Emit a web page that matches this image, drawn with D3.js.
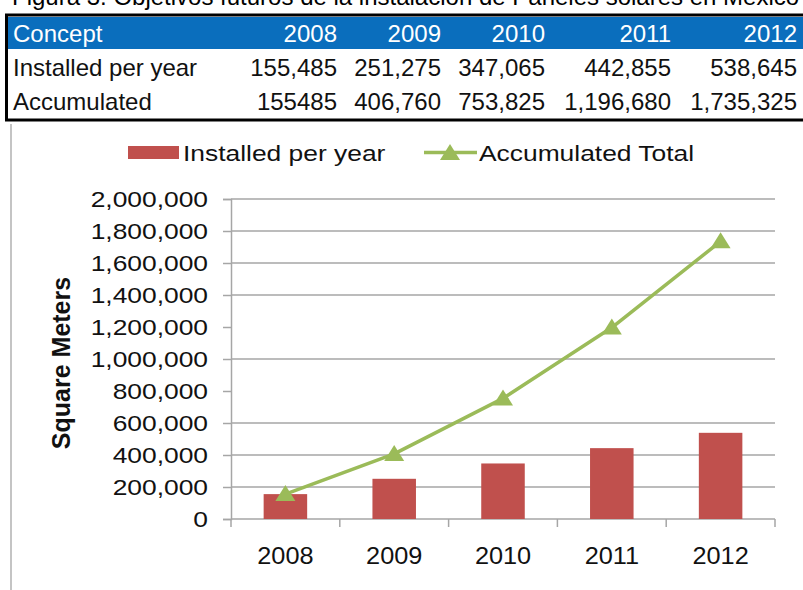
<!DOCTYPE html>
<html>
<head>
<meta charset="utf-8">
<script src="https://cdn.jsdelivr.net/npm/d3@7"></script>
<style>
  body { margin: 0; background: #fff; }
  svg { display: block; font-family: "Liberation Sans", Arial, sans-serif; }
</style>
</head>
<body>
<div id="chart"></div>
<script>
// chart values
let years = ['2008', '2009', '2010', '2011', '2012'];
let installed = [155485, 251275, 347065, 442855, 538645];
let accumulated = [155485, 406760, 753825, 1196680, 1735325];

// table text (as printed)
let tableHeader = ['Concept', '2008', '2009', '2010', '2011', '2012'];
let installedText = ['155,485', '251,275', '347,065', '442,855', '538,645'];
let accumulatedText = ['155485', '406,760', '753,825', '1,196,680', '1,735,325'];
let rowNames = ['Installed per year', 'Accumulated'];

// axis
let yTicks = [0, 200000, 400000, 600000, 800000, 1000000, 1200000, 1400000, 1600000, 1800000, 2000000];
let gridValues = [200000, 400000, 600000, 1000000, 1400000, 1600000, 1800000, 2000000];
let seriesNames = ['Installed per year', 'Accumulated Total'];
let title = 'Figura 3. Objetivos futuros de la instalación de Paneles solares en México';

let W = 803, H = 590;
let barColor = '#C0504D', lineColor = '#9BBB59', gridColor = '#a6a6a6';

let svg = d3.select('#chart').append('svg').attr('width', W).attr('height', H);

// title, mostly cut off at the top
svg.append('text').attr('x', 12).attr('y', 5)
    .style('font-size', '24px').attr('fill', '#000').text(title);

// ---- table ----
let colRight = [337, 441, 545, 671, 797];
svg.append('rect').attr('x', 6.5).attr('y', 15).attr('width', W).attr('height', 105)
    .attr('fill', '#fff').attr('stroke', '#000').attr('stroke-width', 3);
svg.append('rect').attr('x', 8).attr('y', 17).attr('width', W).attr('height', 32)
    .attr('fill', '#0A6EBD');

let rows = [tableHeader, [rowNames[0]].concat(installedText), [rowNames[1]].concat(accumulatedText)];
let rowBase = [42, 76, 110];
rows.forEach(function (row, ri) {
    svg.append('g').selectAll('text').data(row).enter().append('text')
        .attr('x', function (d, i) { return i === 0 ? 13 : colRight[i - 1]; })
        .attr('y', rowBase[ri])
        .attr('text-anchor', function (d, i) { return i === 0 ? 'start' : 'end'; })
        .attr('fill', ri === 0 ? '#fff' : '#111')
        .style('font-size', '24px')
        .text(function (d) { return d; });
});

// left frame line
svg.append('line').attr('x1', 11).attr('x2', 11).attr('y1', 124).attr('y2', H)
    .attr('stroke', '#b0b0b0').attr('stroke-width', 1.5);

// ---- chart ----
let plot = { left: 231, right: 775, top: 199, bottom: 519 };

let x = d3.scaleBand().domain(years)
    .range([plot.left, plot.right]).paddingInner(0.6).paddingOuter(0.3);
let step = x.step();
let y = d3.scaleLinear().domain([0, 2000000]).range([plot.bottom, plot.top]);

// gridlines
svg.append('g').selectAll('line').data(gridValues).enter().append('line')
    .attr('x1', plot.left).attr('x2', plot.right)
    .attr('y1', function (d) { return y(d); }).attr('y2', function (d) { return y(d); })
    .attr('stroke', gridColor).attr('stroke-width', 1.5);

// y axis
let axisY = d3.axisLeft(y).tickValues(yTicks).tickSize(8).tickPadding(0)
    .tickFormat(d3.format(','));
let gy = svg.append('g').attr('transform', 'translate(' + plot.left + ',0)').call(axisY);
gy.select('.domain').attr('stroke', gridColor).attr('stroke-width', 1.5);
gy.selectAll('.tick line').attr('stroke', gridColor).attr('stroke-width', 1.5);
gy.selectAll('.tick text')
    .attr('x', -23 / 1.2).attr('dy', '0.36em')
    .attr('transform', 'scale(1.2,1)')
    .attr('fill', '#111')
    .style('font-size', '22px').style('font-family', '"Liberation Sans", Arial, sans-serif');

// x axis line and boundary ticks
svg.append('line').attr('x1', plot.left).attr('x2', plot.right)
    .attr('y1', plot.bottom).attr('y2', plot.bottom)
    .attr('stroke', gridColor).attr('stroke-width', 1.5);
let bounds = years.map(function (d) { return x(d) - step * 0.3; }).concat([plot.right]);
svg.append('g').selectAll('line').data(bounds).enter().append('line')
    .attr('x1', function (d) { return d; }).attr('x2', function (d) { return d; })
    .attr('y1', plot.bottom).attr('y2', plot.bottom + 8)
    .attr('stroke', gridColor).attr('stroke-width', 1.5);

// x labels
svg.append('g').selectAll('g').data(years).enter().append('g')
    .attr('transform', function (d) {
        return 'translate(' + (x(d) + x.bandwidth() / 2) + ',' + 564 + ') scale(1.1,1)';
    })
    .append('text').attr('text-anchor', 'middle').attr('fill', '#111')
    .style('font-size', '23px').text(function (d) { return d; });

// bars
svg.append('g').selectAll('rect').data(installed).enter().append('rect')
    .attr('x', function (d, i) { return x(years[i]); })
    .attr('width', x.bandwidth())
    .attr('y', function (d) { return y(d); })
    .attr('height', function (d) { return plot.bottom - y(d); })
    .attr('fill', barColor);

// accumulated line
let line = d3.line()
    .x(function (d, i) { return x(years[i]) + x.bandwidth() / 2; })
    .y(function (d) { return y(d); });
svg.append('path').datum(accumulated).attr('d', line)
    .attr('fill', 'none').attr('stroke', lineColor).attr('stroke-width', 3.5)
    .attr('stroke-linejoin', 'round');

let tri = 'M0,-9L10,7L-10,7Z';
svg.append('g').selectAll('path').data(accumulated).enter().append('path')
    .attr('transform', function (d, i) {
        return 'translate(' + (x(years[i]) + x.bandwidth() / 2) + ',' + y(d) + ')';
    })
    .attr('d', tri).attr('fill', lineColor);

// y title
svg.append('text')
    .attr('transform', 'translate(70,363) rotate(-90)')
    .attr('text-anchor', 'middle').attr('fill', '#111')
    .style('font-size', '25px').style('font-weight', 'bold')
    .text('Square Meters');

// ---- legend ----
let legend = svg.append('g');
legend.append('rect').attr('x', 128).attr('y', 146).attr('width', 51).attr('height', 13)
    .attr('fill', barColor);
legend.append('g').attr('transform', 'translate(183,161) scale(1.2,1)')
    .append('text').attr('fill', '#111').style('font-size', '22px').text(seriesNames[0]);
legend.append('line').attr('x1', 424).attr('x2', 477).attr('y1', 152.5).attr('y2', 152.5)
    .attr('stroke', lineColor).attr('stroke-width', 3.5);
legend.append('path').attr('transform', 'translate(450,153)').attr('d', tri).attr('fill', lineColor);
legend.append('g').attr('transform', 'translate(479,161) scale(1.2,1)')
    .append('text').attr('fill', '#111').style('font-size', '22px').text(seriesNames[1]);
</script>
</body>
</html>
